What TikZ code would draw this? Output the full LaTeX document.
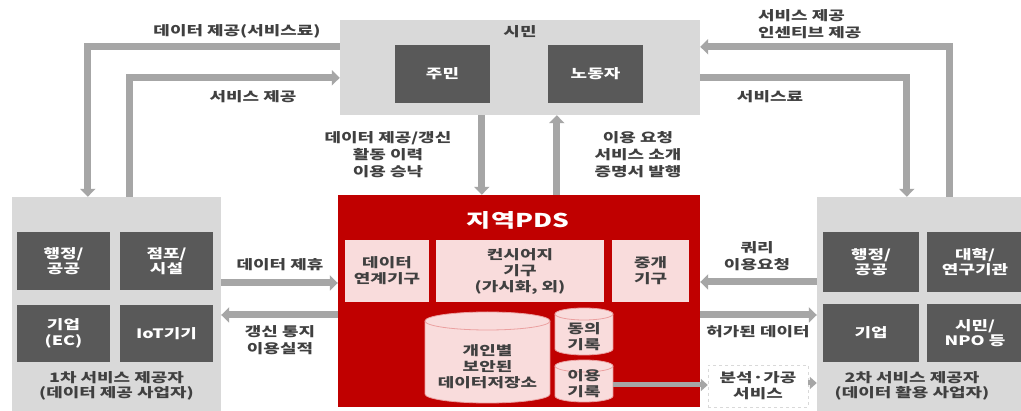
\documentclass[tikz,border=0pt]{standalone}
\usepackage{fontspec}
\setmainfont{Noto Sans CJK KR}[FakeStretch=1.38]
\usetikzlibrary{arrows.meta,calc}
\definecolor{lgray}{HTML}{D9D9D9}
\definecolor{dgray}{HTML}{595959}
\definecolor{agray}{HTML}{A6A6A6}
\definecolor{tgray}{HTML}{404040}
\definecolor{pdsred}{HTML}{C00000}
\definecolor{pink}{HTML}{F9DCDC}
\definecolor{cylline}{HTML}{EBA0A0}
\tikzset{
  panel/.style={fill=lgray,draw=none,inner sep=0pt},
  dbox/.style={fill=dgray,draw=none,text=white,align=center,inner sep=0pt,font=\bfseries\fontsize{13}{15.5}\selectfont},
  pbox/.style={fill=pink,draw=none,text=tgray,align=center,inner sep=0pt,font=\bfseries\fontsize{13}{16}\selectfont},
  lbl/.style={text=tgray,align=center,inner sep=0pt,font=\bfseries\fontsize{13}{17}\selectfont},
  flow/.style={draw=agray,line width=7pt,-{Triangle[width=15pt,length=8pt]}},
  cyltext/.style={text=tgray,align=center,inner sep=0pt,font=\bfseries\fontsize{13}{16}\selectfont},
}
% #1 cx, #2 top, #3 bottom, #4 rx, #5 ry
\newcommand{\dbcylinder}[5]{%
  \fill[pink] ({#1-#4},{#2+#5}) rectangle ({#1+#4},{#3-#5});
  \fill[pink] (#1,{#3-#5}) ellipse [x radius=#4, y radius=#5];
  \draw[cylline,line width=0.8pt] ({#1-#4},{#2+#5}) -- ({#1-#4},{#3-#5})
     arc[start angle=180,end angle=0,x radius=#4,y radius=#5] -- ({#1+#4},{#2+#5});
  \filldraw[fill=pink,draw=cylline,line width=0.8pt] (#1,{#2+#5}) ellipse [x radius=#4, y radius=#5];
}
\begin{document}
\begin{tikzpicture}[x=1pt,y=-1pt]
\useasboundingbox (0,0) rectangle (1021,411);
\clip (0,0) rectangle (1021,411);
\fill[white] (0,0) rectangle (1021,411);
% citizen
\node[panel,minimum width=360pt,minimum height=95pt] (cit) at (520,67.5) {};
\node[lbl] (citl) at (520,32) {시민};
\node[dbox,minimum width=95pt,minimum height=58pt] (jumin) at (442.5,74) {주민};
\node[dbox,minimum width=95pt,minimum height=58pt] (nodong) at (595.5,74) {노동자};
% left provider
\node[panel,minimum width=209pt,minimum height=214pt] (left) at (116.5,304) {};
\node[dbox,minimum width=93pt,minimum height=58pt] (l1) at (63.5,261) {행정/\\공공};
\node[dbox,minimum width=93pt,minimum height=58pt] (l2) at (166.5,261) {점포/\\시설};
\node[dbox,minimum width=93pt,minimum height=57pt] (l3) at (63.5,333.5) {기업\\(EC)};
\node[dbox,minimum width=93pt,minimum height=57pt] (l4) at (166.5,333.5) {IoT기기};
\node[lbl,font=\bfseries\fontsize{13}{14.5}\selectfont] (leftl) at (116.5,386) {1차 서비스 제공자\\(데이터 제공 사업자)};
% right provider
\node[panel,minimum width=212pt,minimum height=214pt] (right) at (923,304) {};
\node[dbox,minimum width=96pt,minimum height=60pt] (r1) at (871,262) {행정/\\공공};
\node[dbox,minimum width=96pt,minimum height=60pt] (r2) at (975,262) {대학/\\연구기관};
\node[dbox,minimum width=96pt,minimum height=58pt] (r3) at (871,333) {기업};
\node[dbox,minimum width=96pt,minimum height=58pt] (r4) at (975,333) {시민/\\NPO 등};
\node[lbl,font=\bfseries\fontsize{13}{14.5}\selectfont] (rightl) at (912,386) {2차 서비스 제공자\\(데이터 활용 사업자)};
% PDS
\node[fill=pdsred,draw=none,minimum width=362pt,minimum height=212pt,inner sep=0pt] (pds) at (519,301) {};
\node[text=white,inner sep=0pt,font=\bfseries\fontsize{19}{22}\selectfont] (pdsl) at (518,220) {지역PDS};
\node[pbox,minimum width=84pt,minimum height=62pt] (p1) at (387,271) {데이터\\연계기구};
\node[pbox,minimum width=168pt,minimum height=62pt] (p2) at (520,271) {컨시어지\\기구\\(가시화, 외)};
\node[pbox,minimum width=77pt,minimum height=62pt] (p3) at (650.5,271) {중개\\기구};
\dbcylinder{487.5}{312}{403}{62.5}{9}
\dbcylinder{584}{308}{355}{29}{6}
\dbcylinder{584}{360}{402}{29}{6}
\node[cyltext,minimum width=125pt] (c1) at (487.5,367) {개인별\\보안된\\데이터저장소};
\node[cyltext,minimum width=58pt] (c2) at (584,337) {동의\\기록};
\node[cyltext,minimum width=58pt] (c3) at (584,384) {이용\\기록};
% analysis
\node[draw=lgray,dashed,fill=white,minimum width=100pt,minimum height=42pt,align=center,inner sep=0pt,text=tgray,font=\bfseries\fontsize{13}{16}\selectfont] (ana) at (758,386) {분석·가공\\서비스};
% top connectors
\draw[flow] ([yshift=-27]cit.north west) -| ([xshift=76]left.north west);
\draw[flow] ([xshift=118]left.north west) |- ([yshift=-58]cit.north west);
\draw[flow] ([xshift=133]right.north west) |- ([yshift=-27]cit.north east);
\draw[flow] ([yshift=-58]cit.north east) -| ([xshift=90]right.north west);
\draw[flow] ([xshift=142]cit.south west) -- ([xshift=142]cit.south west |- pds.north);
\draw[flow] ([xshift=219]pds.north west) -- ([xshift=219]pds.north west |- cit.south);
% side connectors
\draw[flow] ([yshift=21]left.east) -- ([yshift=21]left.east -| pds.west);
\draw[flow] ([yshift=-11]left.east -| pds.west) -- ([yshift=-11]left.east);
\draw[flow] ([yshift=22]right.west) -- ([yshift=22]right.west -| pds.east);
\draw[flow] ([yshift=-11]right.west -| pds.east) -- ([yshift=-11]right.west);
\draw[flow,line width=5pt,-{Triangle[width=12pt,length=7pt]}] ([yshift=-1]c3.east) -- ([yshift=-1]c3.east -| ana.west);
\draw[flow,line width=5pt,-{Triangle[width=12pt,length=7pt]}] ([yshift=3]ana.east) -- ([yshift=3]ana.east -| right.west);
% labels
\node[lbl] (t1) at (237,31) {데이터 제공(서비스료)};
\node[lbl] (t2) at (253,97) {서비스 제공};
\node[lbl,align=left,anchor=west] (t3) at (758,24) {서비스 제공\\인센티브 제공};
\node[lbl] (t4) at (770,97) {서비스료};
\node[lbl] (t5) at (388,155) {데이터 제공/갱신\\활동 이력\\이용 승낙};
\node[lbl] (t6) at (638,155) {이용 요청\\서비스 소개\\증명서 발행};
\node[lbl] (t7) at (280,265) {데이터 제휴};
\node[lbl] (t8) at (280,340) {갱신 통지\\이용실적};
\node[lbl] (t9) at (757,256) {쿼리\\이용요청};
\node[lbl] (t10) at (758,332) {허가된 데이터};
\end{tikzpicture}
\end{document}
